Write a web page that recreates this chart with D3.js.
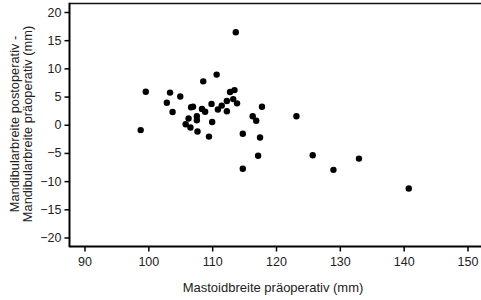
<!DOCTYPE html>
<html>
<head>
<meta charset="utf-8">
<script src="https://cdn.jsdelivr.net/npm/d3@7"></script>
<style>
  body { margin: 0; background: #fff; }
  svg { display: block; font-family: "Liberation Sans", Arial, sans-serif; }
</style>
</head>
<body>
<svg id="chart" width="481" height="300"></svg>
<script>
// Mastoidbreite präoperativ (mm)
const xVals = [113.7, 110.7, 108.6, 99.6, 103.4, 105.0, 112.8, 113.5, 102.9, 103.8,
  106.7, 107.0, 108.4, 108.9, 109.9, 110.9, 111.5, 112.3, 113.3, 113.9,
  112.3, 116.35, 116.9, 117.8, 106.3, 105.85, 106.6, 107.6, 107.6, 110.0,
  107.7, 109.5, 114.8, 117.5, 98.8, 123.2, 125.75, 129.0, 133.0, 140.8,
  114.8, 117.2];
// Differenz Mandibularbreite post - prä (mm)
const yVals = [16.4, 8.9, 7.7, 5.85, 5.7, 5.0, 5.8, 6.15, 3.9, 2.25,
  3.1, 3.2, 2.8, 2.3, 3.7, 2.7, 3.4, 4.2, 4.55, 3.8,
  2.4, 1.5, 0.7, 3.2, 1.1, 0.1, -0.5, 1.5, 0.8, 0.5,
  -1.2, -2.1, -1.6, -2.25, -0.95, 1.5, -5.4, -8.0, -6.0, -11.3,
  -7.8, -5.5];
const xTicks = [90, 100, 110, 120, 130, 140, 150];
const yTicks = [-20, -15, -10, -5, 0, 5, 10, 15, 20];

const svg = d3.select("#chart");
const frame = { left: 69.5, right: 481, top: 3.5, bottom: 246.5 };

const x = d3.scaleLinear().domain([90, 150]).range([84.5, 467.5]);
const y = d3.scaleLinear().domain([-20, 20]).range([237.5, 12]);

// x axis
const xAxis = svg.append("g")
  .attr("transform", `translate(0,${frame.bottom})`)
  .call(d3.axisBottom(x).tickValues(xTicks).tickSize(5).tickSizeOuter(0).tickPadding(6));
xAxis.select(".domain").remove();
xAxis.selectAll(".tick line").attr("stroke", "#000").attr("stroke-width", 1.5);
xAxis.selectAll(".tick text").attr("font-size", 12.5).attr("fill", "#222")
  .attr("font-family", "Liberation Sans, Arial, sans-serif");

// y axis
const yAxis = svg.append("g")
  .attr("transform", `translate(${frame.left},0)`)
  .call(d3.axisLeft(y).tickValues(yTicks).tickSize(5).tickSizeOuter(0).tickPadding(3));
yAxis.select(".domain").remove();
yAxis.selectAll(".tick line").attr("stroke", "#000").attr("stroke-width", 1.5);
yAxis.selectAll(".tick text").attr("font-size", 12.5).attr("fill", "#222")
  .attr("font-family", "Liberation Sans, Arial, sans-serif");

// frame lines
svg.append("line")
  .attr("x1", frame.left).attr("x2", frame.right)
  .attr("y1", frame.top).attr("y2", frame.top)
  .attr("stroke", "#111").attr("stroke-width", 1.5);
svg.append("line")
  .attr("x1", frame.left).attr("x2", frame.left)
  .attr("y1", frame.top - 0.75).attr("y2", frame.bottom + 0.75)
  .attr("stroke", "#000").attr("stroke-width", 2);
svg.append("line")
  .attr("x1", frame.left).attr("x2", frame.right)
  .attr("y1", frame.bottom).attr("y2", frame.bottom)
  .attr("stroke", "#000").attr("stroke-width", 2);

// points
svg.append("g").selectAll("circle")
  .data(xVals.map((v, i) => [v, yVals[i]]))
  .enter()
  .append("circle")
  .attr("cx", d => x(d[0]))
  .attr("cy", d => y(d[1]))
  .attr("r", 3.2)
  .attr("fill", "#000");

// axis titles
svg.append("text")
  .attr("x", 273).attr("y", 292)
  .attr("text-anchor", "middle")
  .attr("font-size", 13).attr("fill", "#222")
  .text("Mastoidbreite präoperativ (mm)");

const yTitle = svg.append("text")
  .attr("transform", "translate(0,124) rotate(-90)")
  .attr("text-anchor", "middle")
  .attr("font-size", 12.8).attr("fill", "#222");
yTitle.append("tspan").attr("x", 0).attr("y", 18.5).text("Mandibularbreite postoperativ -");
yTitle.append("tspan").attr("x", 0).attr("y", 32).text("Mandibularbreite präoperativ (mm)");
</script>
</body>
</html>
